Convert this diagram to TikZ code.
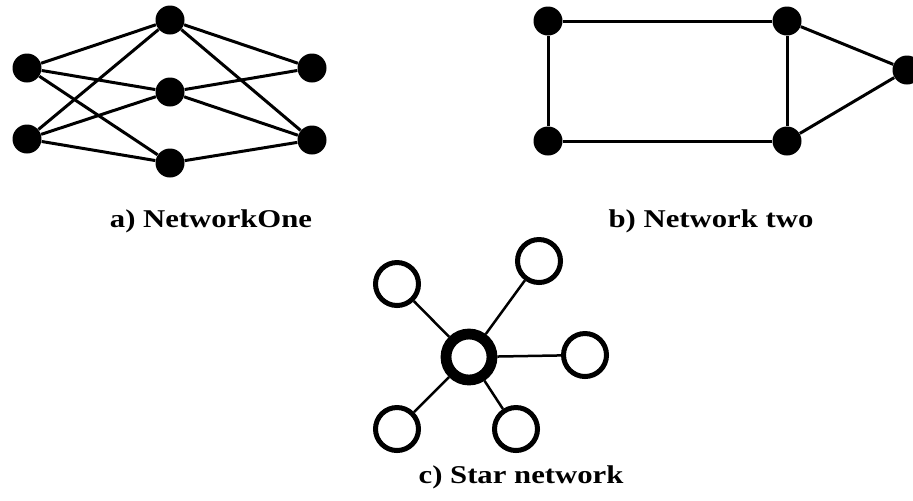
\documentclass[tikz,border=0pt]{standalone}
\usepackage{fontspec}
\setmainfont{Liberation Serif}[FakeStretch=1.2]
\usepackage{tikz}
\usetikzlibrary{positioning}

\begin{document}
\begin{tikzpicture}[
    x=0.5pt, y=-0.5pt,
    dot/.style={circle, fill=black, draw=none, inner sep=0pt, minimum size=14.5pt},
    ring/.style={circle, draw=black, fill=white, line width=2.5pt, inner sep=0pt, minimum size=21.5pt},
    hub/.style={circle, draw=black, fill=white, line width=5.4pt, inner sep=0pt, minimum size=23pt},
    lbl/.style={anchor=base, font=\fontsize{12.8pt}{15pt}\selectfont\bfseries, inner sep=0pt},
    link/.style={draw=black, line width=1.5pt},
    spoke/.style={draw=black, line width=1.25pt}
]
    \useasboundingbox (0,0) rectangle (913,500);

    % a) first network
    \node [dot] (l1) at (27,68) {};
    \node [dot] (l2) at (27,139) {};
    \node [dot] (m1) at (170,20) {};
    \node [dot] (m2) at (170,92) {};
    \node [dot] (m3) at (170,163) {};
    \node [dot] (r1) at (312,68) {};
    \node [dot] (r2) at (312,140) {};
    \node [lbl] (capa) at (211,227) {a) NetworkOne};

    % b) second network
    \node [dot] (tl) at (548,21) {};
    \node [dot] (tr) at (787,21) {};
    \node [dot] (tip) at (907,70) {};
    \node [dot] (bl) at (548,141) {};
    \node [dot] (br) at (787,141) {};
    \node [lbl] (capb) at (711,227) {b) Network two};

    % c) star network
    \node [hub] (hub) at (469,357) {};
    \node [ring] (sul) at (397,284) {};
    \node [ring] (sur) at (539,261) {};
    \node [ring] (sr) at (585,355) {};
    \node [ring] (sll) at (397,429) {};
    \node [ring] (slr) at (516,429) {};
    \node [lbl] (capc) at (521,483) {c) Star network};

    % Connections
    \foreach \a in {l1,l2}
        \foreach \b in {m1,m2,m3}
            \path [link] (\a) -- (\b);
    \path [link] (m1) -- (r1);
    \path [link] (m1) -- (r2);
    \path [link] (m2) -- (r1);
    \path [link] (m2) -- (r2);
    \path [link] (m3) -- (r2);

    \path [link] (tl) -- (tr) -- (br) -- (bl) -- (tl);
    \path [link] (tr) -- (tip) -- (br);

    \foreach \s in {sul,sur,sr,sll,slr}
        \path [spoke] (hub) -- (\s);

\end{tikzpicture}
\end{document}
